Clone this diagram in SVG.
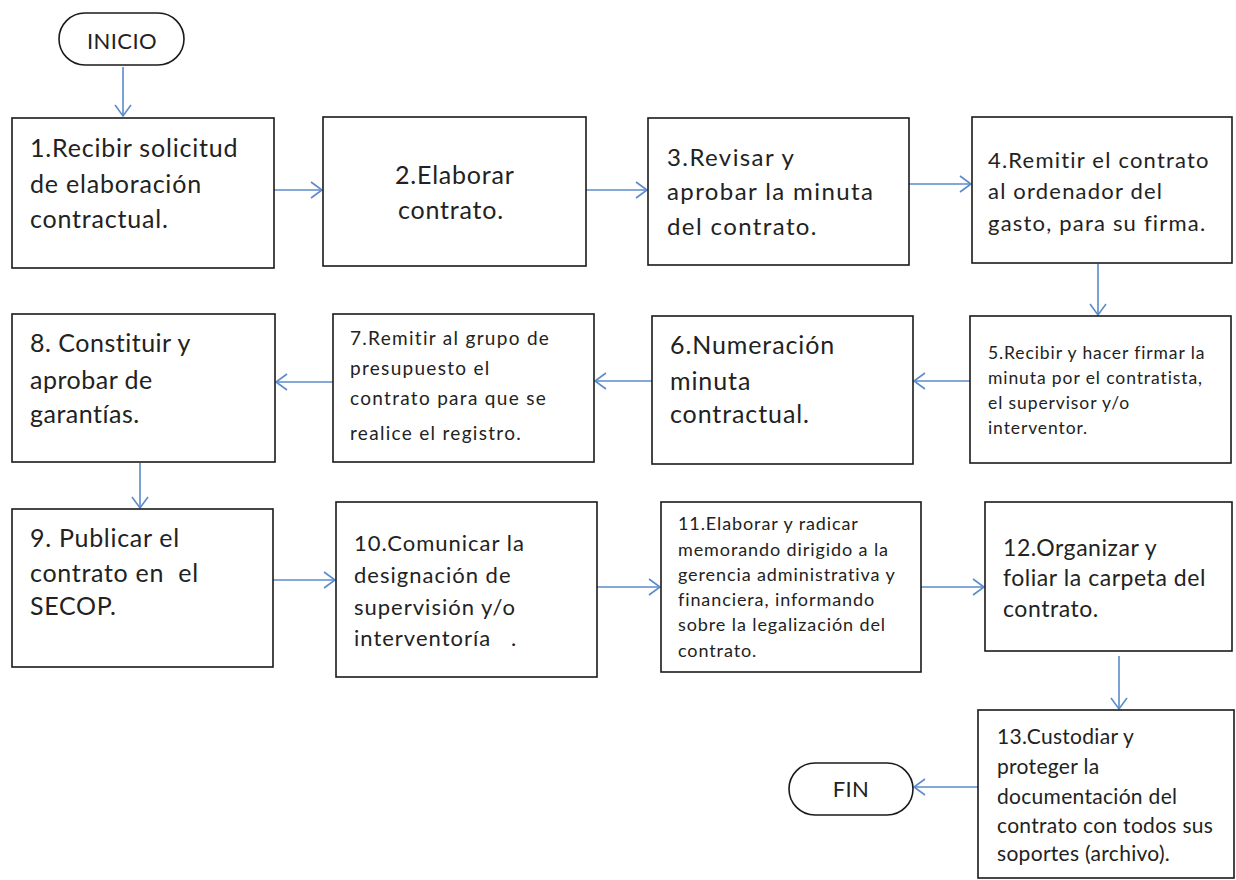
<svg xmlns="http://www.w3.org/2000/svg" width="1236" height="880" viewBox="0 0 1236 880">
<style>
.box{fill:#fff;stroke:#1a1a1a;stroke-width:1.6}
.t{font-family:Lato,"Open Sans","Liberation Sans",sans-serif;fill:#222}
.c{stroke:#5b8bcb;stroke-width:1.6;fill:none}
</style>
<defs>
<marker id="ah" markerWidth="14" markerHeight="18" refX="12" refY="9" orient="auto" markerUnits="userSpaceOnUse">
<path d="M1,1 L12,9 L1,17" fill="none" stroke="#5b8bcb" stroke-width="1.6"/>
</marker>
</defs>
<rect width="1236" height="880" fill="#fff"/>
<g id="connectors">
<line class="c" x1="123" y1="67" x2="123" y2="116" marker-end="url(#ah)"/>
<line class="c" x1="274" y1="190" x2="322" y2="190" marker-end="url(#ah)"/>
<line class="c" x1="586" y1="190" x2="647" y2="190" marker-end="url(#ah)"/>
<line class="c" x1="909" y1="184" x2="971" y2="184" marker-end="url(#ah)"/>
<line class="c" x1="1098" y1="264" x2="1098" y2="315" marker-end="url(#ah)"/>
<line class="c" x1="970" y1="381" x2="914" y2="381" marker-end="url(#ah)"/>
<line class="c" x1="652" y1="381" x2="595" y2="381" marker-end="url(#ah)"/>
<line class="c" x1="333" y1="382" x2="276" y2="382" marker-end="url(#ah)"/>
<line class="c" x1="140" y1="463" x2="140" y2="508" marker-end="url(#ah)"/>
<line class="c" x1="273" y1="580" x2="335" y2="580" marker-end="url(#ah)"/>
<line class="c" x1="597" y1="587" x2="660" y2="587" marker-end="url(#ah)"/>
<line class="c" x1="921" y1="587" x2="984" y2="587" marker-end="url(#ah)"/>
<line class="c" x1="1119" y1="656" x2="1119" y2="709" marker-end="url(#ah)"/>
<line class="c" x1="978" y1="787" x2="914" y2="787" marker-end="url(#ah)"/>
</g>
<g id="inicio">
<rect class="box" x="59" y="13" width="125" height="52" rx="26"/>
<text class="t" x="122" y="49" font-size="22" text-anchor="middle" letter-spacing="0.4">INICIO</text>
</g>
<g id="n1">
<rect class="box" x="12" y="118" width="262" height="150"/>
<text class="t" font-size="25" letter-spacing="0.8"><tspan x="30" y="157">1.Recibir solicitud</tspan><tspan x="30" y="193">de elaboración</tspan><tspan x="30" y="228">contractual.</tspan></text>
</g>
<g id="n2">
<rect class="box" x="323" y="117" width="263" height="149"/>
<text class="t" font-size="25" letter-spacing="0.8"><tspan x="395" y="184">2.Elaborar</tspan><tspan x="398" y="219">contrato.</tspan></text>
</g>
<g id="n3">
<rect class="box" x="648" y="118" width="261" height="147"/>
<text class="t" font-size="24" letter-spacing="1.4"><tspan x="667" y="166">3.Revisar y</tspan><tspan x="667" y="200">aprobar la minuta</tspan><tspan x="667" y="235">del contrato.</tspan></text>
</g>
<g id="n4">
<rect class="box" x="972" y="117" width="260" height="146"/>
<text class="t" font-size="22" letter-spacing="1.2"><tspan x="988" y="168">4.Remitir el contrato</tspan><tspan x="988" y="199">al ordenador del</tspan><tspan x="988" y="231">gasto, para su firma.</tspan></text>
</g>
<g id="n5">
<rect class="box" x="970" y="316" width="261" height="147"/>
<text class="t" font-size="17.5" letter-spacing="0.9"><tspan x="988" y="359">5.Recibir y hacer firmar la</tspan><tspan x="988" y="384">minuta por el contratista,</tspan><tspan x="988" y="409">el supervisor y/o</tspan><tspan x="988" y="434">interventor.</tspan></text>
</g>
<g id="n6">
<rect class="box" x="652" y="316" width="261" height="148"/>
<text class="t" font-size="25" letter-spacing="0.9"><tspan x="670" y="354">6.Numeración</tspan><tspan x="670" y="390">minuta</tspan><tspan x="670" y="423">contractual.</tspan></text>
</g>
<g id="n7">
<rect class="box" x="333" y="314" width="261" height="148"/>
<text class="t" font-size="19" letter-spacing="1.3"><tspan x="350" y="345">7.Remitir al grupo de</tspan><tspan x="350" y="375">presupuesto el</tspan><tspan x="350" y="405">contrato para que se</tspan><tspan x="350" y="440">realice el registro.</tspan></text>
</g>
<g id="n8">
<rect class="box" x="12" y="314" width="263" height="148"/>
<text class="t" font-size="25" letter-spacing="0.5"><tspan x="30" y="352">8. Constituir y</tspan><tspan x="30" y="389">aprobar de</tspan><tspan x="30" y="423">garantías.</tspan></text>
</g>
<g id="n9">
<rect class="box" x="12" y="509" width="261" height="158"/>
<text class="t" font-size="25" letter-spacing="0.7" xml:space="preserve"><tspan x="30" y="547">9. Publicar el</tspan><tspan x="30" y="582">contrato en  el</tspan><tspan x="30" y="615">SECOP.</tspan></text>
</g>
<g id="n10">
<rect class="box" x="336" y="502" width="261" height="175"/>
<text class="t" font-size="22" letter-spacing="1.0" xml:space="preserve"><tspan x="354" y="551">10.Comunicar la</tspan><tspan x="354" y="583">designación de</tspan><tspan x="354" y="615">supervisión y/o</tspan><tspan x="354" y="646">interventoría   .</tspan></text>
</g>
<g id="n11">
<rect class="box" x="661" y="502" width="260" height="170"/>
<text class="t" font-size="18" letter-spacing="0.9"><tspan x="678" y="530">11.Elaborar y radicar</tspan><tspan x="678" y="556">memorando dirigido a la</tspan><tspan x="678" y="581">gerencia administrativa y</tspan><tspan x="678" y="606">financiera, informando</tspan><tspan x="678" y="631">sobre la legalización del</tspan><tspan x="678" y="657">contrato.</tspan></text>
</g>
<g id="n12">
<rect class="box" x="985" y="502" width="247" height="149"/>
<text class="t" font-size="23" letter-spacing="0.55"><tspan x="1003" y="556">12.Organizar y</tspan><tspan x="1003" y="586">foliar la carpeta del</tspan><tspan x="1003" y="617">contrato.</tspan></text>
</g>
<g id="n13">
<rect class="box" x="978" y="710" width="256" height="168"/>
<text class="t" font-size="21" letter-spacing="0.3"><tspan x="997" y="744">13.Custodiar y</tspan><tspan x="997" y="774">proteger la</tspan><tspan x="997" y="804">documentación del</tspan><tspan x="997" y="833">contrato con todos sus</tspan><tspan x="997" y="861">soportes (archivo).</tspan></text>
</g>
<g id="fin">
<rect class="box" x="789" y="763" width="124" height="52" rx="26"/>
<text class="t" x="851" y="797" font-size="22" text-anchor="middle" letter-spacing="0.4">FIN</text>
</g>
</svg>
